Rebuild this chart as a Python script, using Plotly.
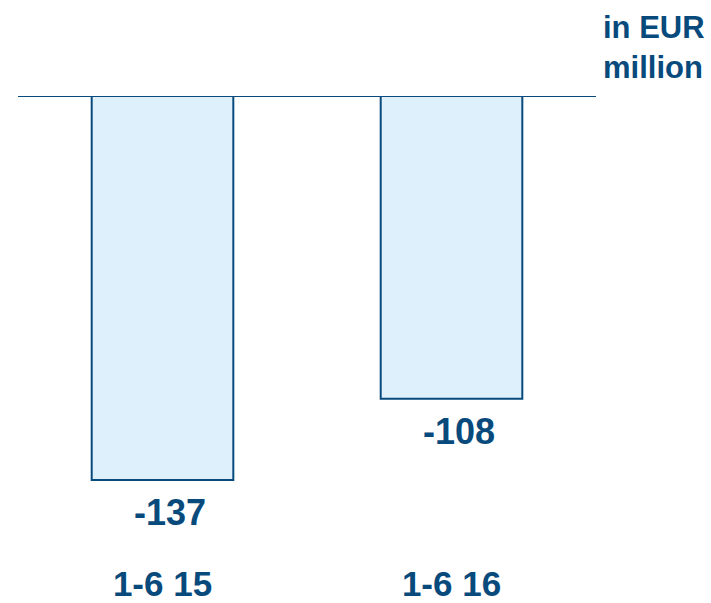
import plotly.graph_objects as go

# Half-year result, EUR million
periods = ["1-6 15", "1-6 16"]
values = [-137, -108]
value_labels = ["-137", "-108"]
unit_label = "in EUR<br>million"

navy = "#084A7C"
fill = "#DFF0FD"
font_family = "Liberation Sans, Arial, sans-serif"

fig = go.Figure()
fig.add_trace(go.Bar(
    x=periods,
    y=values,
    width=0.49,
    marker=dict(color=fill, line=dict(color=navy, width=2)),
    hoverinfo="skip",
))

# Value labels beneath each bar end
for p, v, t in zip(periods, values, value_labels):
    fig.add_annotation(
        x=p, y=v, text=f"<b>{t}</b>", showarrow=False,
        xanchor="center", yanchor="top", yshift=-10, xshift=7,
        font=dict(family=font_family, size=36, color=navy),
    )

# Unit label in the top-right corner
fig.add_annotation(
    xref="paper", yref="paper", x=1.008, y=1.19,
    text=f"<b>{unit_label}</b>", showarrow=False,
    xanchor="left", yanchor="top", align="left",
    font=dict(family=font_family, size=31, color=navy),
)

# Zero baseline across the plot
fig.add_shape(
    type="line", xref="paper", yref="y", x0=0, x1=1, y0=0, y1=0,
    line=dict(color=navy, width=2),
)

fig.update_layout(
    width=711, height=603,
    margin=dict(l=18, r=115, t=96, b=43),
    paper_bgcolor="white", plot_bgcolor="white",
    showlegend=False,
    xaxis=dict(
        range=[-0.5, 1.5], showgrid=False, showline=False, zeroline=False,
        automargin=False,
        ticks="", tickfont=dict(family=font_family, size=35, color=navy),
        tickprefix="<b>", ticksuffix="</b>",
    ),
    yaxis=dict(
        range=[-165.5, 0], visible=False, showgrid=False, zeroline=False,
        automargin=False,
    ),
)

fig.write_html("out.html")
